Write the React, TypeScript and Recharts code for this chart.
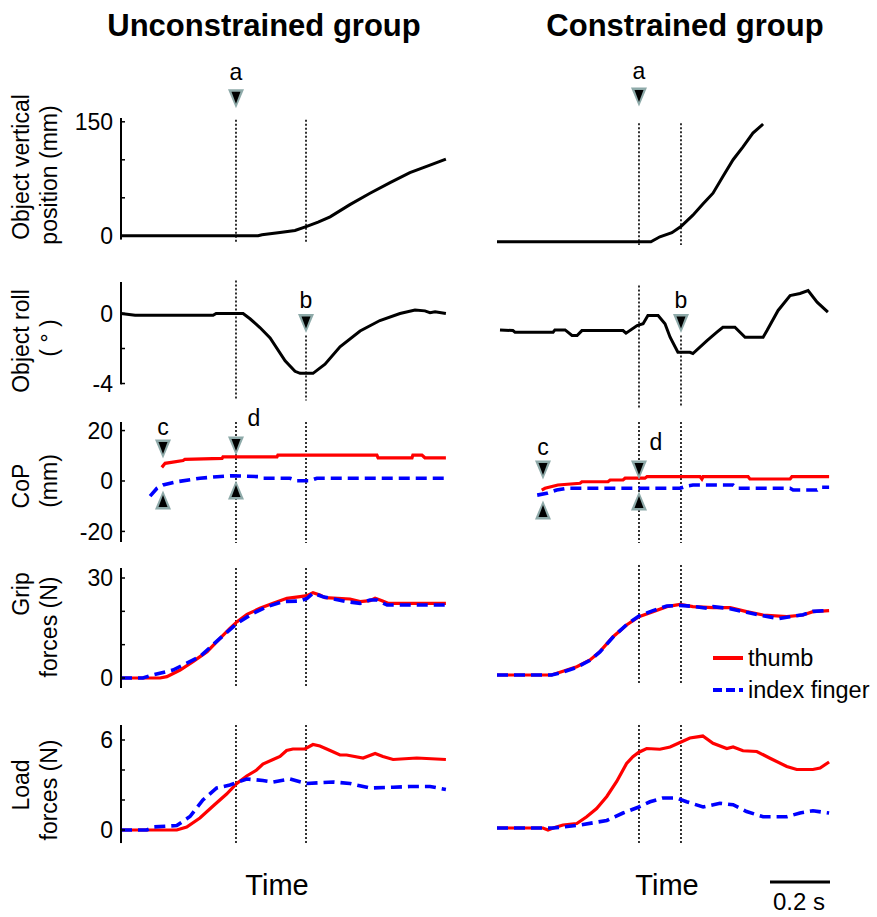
import React from 'react';
import { LineChart, Line, XAxis, YAxis, ReferenceLine, ReferenceDot } from 'recharts';

type Pt = [number, number];

// ---------- data (time in s, value in axis units) ----------
const posUnc: Pt[] = [[0,0],[0.263,0],[0.457,0],[0.47,1.3],[0.53,4.3],[0.58,7],[0.617,12],[0.657,18],[0.697,25],[0.763,41],[0.83,56],[0.897,70],[0.963,83],[1.03,93],[1.083,101]];
const posCon: Pt[] = [[0,0],[0.513,0],[0.543,6.6],[0.583,12],[0.613,20],[0.653,35],[0.687,50],[0.72,64],[0.753,86],[0.787,108],[0.82,125],[0.853,143],[0.887,155]];

const rollUnc: Pt[] = [[0,0],[0.047,-0.1],[0.307,-0.1],[0.317,0],[0.407,0],[0.43,-0.3],[0.463,-0.8],[0.497,-1.4],[0.547,-2.7],[0.58,-3.3],[0.597,-3.42],[0.64,-3.42],[0.68,-2.9],[0.73,-1.9],[0.797,-1.0],[0.863,-0.4],[0.93,0],[0.98,0.2],[1.013,0.15],[1.03,0.05],[1.047,0.1],[1.083,0]];
const rollCon: Pt[] = [[0.01,-0.65],[0.053,-0.69],[0.06,-0.78],[0.187,-0.78],[0.193,-0.65],[0.227,-0.65],[0.25,-0.97],[0.267,-0.97],[0.283,-0.69],[0.42,-0.69],[0.43,-0.84],[0.467,-0.4],[0.487,-0.3],[0.503,0.17],[0.537,0.17],[0.56,-0.3],[0.577,-1.07],[0.603,-1.93],[0.643,-1.93],[0.653,-2.0],[0.7,-1.26],[0.733,-0.78],[0.753,-0.5],[0.793,-0.5],[0.827,-1.07],[0.887,-1.07],[0.9,-0.69],[0.937,0.46],[0.977,1.31],[1.01,1.43],[1.037,1.6],[1.067,0.93],[1.103,0.36]];

const copThumbUnc: Pt[] = [[0.136,5.4],[0.147,7.0],[0.207,8.1],[0.213,8.6],[0.337,9.0],[0.34,9.6],[0.52,9.6],[0.523,10.3],[0.853,10.3],[0.857,9.2],[0.97,9.2],[0.973,10.3],[1.003,10.3],[1.013,9.2],[1.083,9.2]];
const copIndexUnc: Pt[] = [[0.097,-6.0],[0.12,-2.9],[0.14,-1.6],[0.187,-0.3],[0.263,1.1],[0.32,1.7],[0.373,2.1],[0.463,1.7],[0.473,1.1],[0.563,1.1],[0.587,0.1],[0.63,0.1],[0.653,1.1],[1.083,1.1]];
const copThumbCon: Pt[] = [[0.149,-3.6],[0.16,-2.9],[0.203,-1.6],[0.277,-0.9],[0.283,-0.3],[0.37,-0.3],[0.377,0.4],[0.42,0.4],[0.427,1.1],[0.493,1.1],[0.5,1.7],[0.677,1.7],[0.683,0.8],[0.687,1.7],[0.837,1.7],[0.843,0.8],[0.977,0.8],[0.983,1.7],[1.107,1.7]];
const copIndexCon: Pt[] = [[0.134,-5.6],[0.166,-4.9],[0.199,-3.6],[0.232,-2.9],[0.61,-2.9],[0.632,-2.0],[0.653,-1.6],[0.787,-1.6],[0.8,-2.9],[0.977,-2.9],[0.987,-3.6],[1.067,-3.6],[1.077,-2.5],[1.107,-2.5]];

const gripThumbUnc: Pt[] = [[0,0],[0.13,0],[0.153,0.4],[0.197,2.4],[0.24,4.9],[0.287,7.9],[0.33,11.9],[0.363,14.9],[0.387,16.9],[0.42,19.1],[0.463,20.9],[0.507,22.4],[0.553,23.9],[0.597,24.4],[0.62,24.7],[0.64,25.6],[0.663,24.9],[0.68,24.1],[0.763,23.7],[0.797,22.9],[0.83,23.2],[0.847,23.9],[0.87,23.2],[0.89,22.4],[1.083,22.4]];
const gripIndexUnc: Pt[] = [[0,0],[0.073,0],[0.097,0.7],[0.173,2.4],[0.263,6.4],[0.33,11.9],[0.387,16.4],[0.44,19.4],[0.487,21.4],[0.54,22.9],[0.597,23.1],[0.62,23.9],[0.64,25.4],[0.673,24.4],[0.753,22.9],[0.797,22.4],[0.83,23.4],[0.853,23.4],[0.887,21.9],[1.083,21.9]];
const gripThumbCon: Pt[] = [[0,0],[0.182,0],[0.21,0.8],[0.266,2.5],[0.31,4.5],[0.343,7.0],[0.387,11.5],[0.432,15],[0.473,17.5],[0.52,19],[0.566,20.5],[0.61,21.2],[0.653,20.5],[0.72,20.2],[0.777,20.2],[0.832,19],[0.887,18],[0.966,17.5],[1.02,18],[1.053,19],[1.107,19.3]];
const gripIndexCon: Pt[] = [[0,0],[0.182,0],[0.21,0.6],[0.266,2.3],[0.31,4.4],[0.343,6.9],[0.387,11.4],[0.432,15.1],[0.473,17.7],[0.52,19.3],[0.566,20.7],[0.61,20.9],[0.653,20.6],[0.7,20.0],[0.72,20.5],[0.777,19.9],[0.832,18.8],[0.887,17.8],[0.94,16.9],[0.966,17.3],[1.02,18.1],[1.053,19.1],[1.107,19.4]];

const loadThumbUnc: Pt[] = [[0,0],[0.186,0],[0.219,0.2],[0.263,0.8],[0.307,1.6],[0.352,2.4],[0.386,3.1],[0.419,3.6],[0.452,4.0],[0.473,4.4],[0.507,4.7],[0.53,4.9],[0.552,5.3],[0.573,5.4],[0.613,5.4],[0.64,5.7],[0.663,5.6],[0.697,5.3],[0.73,5.0],[0.752,5.0],[0.807,4.8],[0.847,5.1],[0.873,4.9],[0.907,4.7],[0.986,4.8],[1.083,4.7]];
const loadIndexUnc: Pt[] = [[0,0],[0.086,0],[0.107,0.2],[0.186,0.3],[0.23,0.9],[0.273,2.0],[0.319,2.8],[0.363,3.0],[0.419,3.4],[0.473,3.3],[0.507,3.2],[0.563,3.4],[0.619,3.1],[0.707,3.2],[0.763,3.1],[0.83,2.8],[0.907,2.85],[0.963,2.9],[1.03,2.9],[1.083,2.7]];
const loadThumbCon: Pt[] = [[0,0],[0.153,0],[0.17,-0.13],[0.187,0],[0.22,0.2],[0.266,0.3],[0.299,0.75],[0.332,1.3],[0.366,2.1],[0.399,3.1],[0.432,4.3],[0.453,4.75],[0.473,5.05],[0.499,5.3],[0.543,5.25],[0.577,5.4],[0.61,5.7],[0.643,6.0],[0.686,6.13],[0.72,5.65],[0.766,5.3],[0.787,5.4],[0.82,5.15],[0.866,5.1],[0.91,4.65],[0.966,4.1],[0.999,3.9],[1.053,3.9],[1.077,4.0],[1.107,4.4]];
const loadIndexCon: Pt[] = [[0,0],[0.187,0],[0.277,0.2],[0.366,0.5],[0.42,1.0],[0.473,1.4],[0.51,1.75],[0.553,2.0],[0.599,2.0],[0.632,1.75],[0.687,1.4],[0.743,1.65],[0.787,1.55],[0.832,1.1],[0.887,0.75],[0.966,0.75],[1.01,1.0],[1.053,1.15],[1.107,1.0]];

// event times (s)
const evUnc = { a: 0.3833, b: 0.6167, c: 0.14 };
const evCon = { a: 0.4733, b: 0.6133, c: 0.1533 };

const titles = ['Unconstrained group', 'Constrained group'];
const legendLabels = ['thumb', 'index finger'];

// ---------- styling ----------
const FONT = 'Liberation Sans, Arial, Helvetica, sans-serif';
const RED = '#ff0000';
const BLUE = '#0000ff';
const X_DOMAIN: [number, number] = [0, 1.12];
const PW = 336; // 300 px per second
const M = 80;
const AXW = 60;

interface SeriesSpec { data: Pt[]; color: string; dash?: string; width: number; }
interface MarkerSpec { t: number; v: number; dir: 'up' | 'down'; label?: string; ldx?: number; ldy?: number; }
interface PanelSpec {
  left: number; top: number; height: number; domain: [number, number];
  axis?: { ticks: number[]; labels: number[] };
  series: SeriesSpec[];
  guides: { t: number; y1: number; y2: number }[];
  markers: MarkerSpec[];
  scaleBar?: { t1: number; t2: number; v: number };
}

const toRows = (pts: Pt[]) => pts.map(([t, v]) => ({ t, v }));

const blk = (data: Pt[]): SeriesSpec[] => [{ data, color: '#000', width: 3 }];
const pair = (th: Pt[], ix: Pt[]): SeriesSpec[] => [
  { data: th, color: RED, width: 3.2 },
  { data: ix, color: BLUE, width: 3.6, dash: '11 6' },
];

const Tri = (props: any) => {
  const { cx, cy, m } = props as { cx: number; cy: number; m: MarkerSpec };
  const s = m.dir === 'down' ? 1 : -1;
  const outer = `${cx - 8},${cy - 9.5 * s} ${cx + 8},${cy - 9.5 * s} ${cx},${cy + 9.5 * s}`;
  const inner = `${cx - 4.5},${cy - 7 * s} ${cx + 4.5},${cy - 7 * s} ${cx},${cy + 5 * s}`;
  return (
    <g>
      <polygon points={outer} fill="#8eaaa9" />
      <polygon points={inner} fill="#000" />
      {m.label ? (
        <text x={cx + (m.ldx || 0)} y={cy + (m.ldy || 0)} textAnchor="middle" fontSize={23} fontFamily={FONT} fill="#000">
          {m.label}
        </text>
      ) : null}
    </g>
  );
};

const Panel = ({ p }: { p: PanelSpec }) => {
  const hasAxis = !!p.axis;
  return (
    <div style={{ position: 'absolute', left: p.left - M, top: p.top - M }}>
      <LineChart
        width={PW + 2 * M}
        height={p.height + 2 * M}
        margin={{ top: M, right: M, bottom: M, left: hasAxis ? M - AXW : M }}
      >
        <XAxis dataKey="t" type="number" domain={X_DOMAIN} hide />
        {hasAxis ? (
          <YAxis
            type="number"
            domain={p.domain}
            width={AXW}
            ticks={p.axis!.ticks}
            interval={0}
            tickFormatter={(v: number) => (p.axis!.labels.includes(v) ? String(v) : '')}
            axisLine={{ stroke: '#000', strokeWidth: 2 }}
            tickLine={{ stroke: '#000', strokeWidth: 1.5 }}
            tickSize={-4}
            tickMargin={12}
            tick={{ fill: '#000', fontSize: 23, fontFamily: FONT }}
          />
        ) : (
          <YAxis type="number" domain={p.domain} hide />
        )}
        {p.guides.map((g, i) => (
          <ReferenceLine
            key={'g' + i}
            segment={[{ x: g.t, y: g.y1 }, { x: g.t, y: g.y2 }]}
            stroke="#000"
            strokeWidth={1.6}
            strokeDasharray="2 2"
            ifOverflow="visible"
          />
        ))}
        {p.series.map((s, i) => (
          <Line
            key={'s' + i}
            data={toRows(s.data)}
            dataKey="v"
            type="linear"
            stroke={s.color}
            strokeWidth={s.width}
            strokeDasharray={s.dash}
            dot={false}
            activeDot={false}
            isAnimationActive={false}
          />
        ))}
        {p.markers.map((m, i) => (
          <ReferenceDot
            key={'m' + i}
            x={m.t}
            y={m.v}
            r={1}
            ifOverflow="visible"
            shape={(props: any) => <Tri {...props} m={m} />}
          />
        ))}
        {p.scaleBar ? (
          <ReferenceLine
            segment={[{ x: p.scaleBar.t1, y: p.scaleBar.v }, { x: p.scaleBar.t2, y: p.scaleBar.v }]}
            stroke="#000"
            strokeWidth={3}
            ifOverflow="visible"
          />
        ) : null}
      </LineChart>
    </div>
  );
};

const LX = 121;
const RX = 497;

const panels: PanelSpec[] = [
  // row 1: object vertical position
  {
    left: LX, top: 118.2, height: 121.6, domain: [-5, 155],
    axis: { ticks: [0, 50, 100, 150], labels: [0, 150] },
    series: blk(posUnc),
    guides: [{ t: evUnc.a, y1: 152.6, y2: -7.9 }, { t: evUnc.b, y1: 152.6, y2: -7.9 }],
    markers: [{ t: evUnc.a, v: 180.3, dir: 'down', label: 'a', ldy: -19 }],
  },
  {
    left: RX, top: 123.9, height: 121.6, domain: [-5, 155],
    series: blk(posCon),
    guides: [{ t: evCon.a, y1: 156, y2: -4.3 }, { t: evCon.b, y1: 156, y2: -4.3 }],
    markers: [{ t: evCon.a, v: 190.4, dir: 'down', label: 'a', ldy: -18 }],
  },
  // row 2: object roll
  {
    left: LX, top: 281.5, height: 102.4, domain: [-4.05, 1.8],
    axis: { ticks: [-4, -2, 0], labels: [-4, 0] },
    series: blk(rollUnc),
    guides: [{ t: evUnc.a, y1: 1.89, y2: -4.97 }, { t: evUnc.b, y1: -1.26, y2: -4.97 }],
    markers: [{ t: evUnc.b, v: -0.57, dir: 'down', label: 'b', ldy: -15 }],
  },
  {
    left: RX, top: 286.5, height: 102.4, domain: [-4.05, 1.8],
    series: blk(rollCon),
    guides: [{ t: evCon.a, y1: 1.89, y2: -5.09 }, { t: evCon.b, y1: -0.97, y2: -5.09 }],
    markers: [{ t: evCon.b, v: -0.29, dir: 'down', label: 'b', ldy: -16 }],
  },
  // row 3: CoP
  {
    left: LX, top: 422, height: 120, domain: [-24.2, 23.4],
    axis: { ticks: [-20, 0, 20], labels: [-20, 0, 20] },
    series: pair(copThumbUnc, copIndexUnc),
    guides: [{ t: evUnc.a, y1: 23.4, y2: -24.6 }, { t: evUnc.b, y1: 23.4, y2: -24.6 }],
    markers: [
      { t: evUnc.c, v: 12.7, dir: 'down', label: 'c', ldy: -14 },
      { t: evUnc.c, v: -7.5, dir: 'up' },
      { t: evUnc.a, v: 13.9, dir: 'down', label: 'd', ldx: 18, ldy: -20 },
      { t: evUnc.a, v: -3.6, dir: 'up' },
    ],
  },
  {
    left: RX, top: 422, height: 120, domain: [-24.2, 23.4],
    series: pair(copThumbCon, copIndexCon),
    guides: [{ t: evCon.a, y1: 23.4, y2: -24.6 }, { t: evCon.b, y1: 23.4, y2: -24.6 }],
    markers: [
      { t: evCon.c, v: 4.4, dir: 'down', label: 'c', ldy: -15 },
      { t: evCon.c, v: -11.5, dir: 'up' },
      { t: evCon.a, v: 4.4, dir: 'down', label: 'd', ldx: 17, ldy: -20 },
      { t: evCon.a, v: -7.9, dir: 'up' },
    ],
  },
  // row 4: grip forces
  {
    left: LX, top: 568, height: 120, domain: [-3, 33],
    axis: { ticks: [0, 10, 20, 30], labels: [0, 30] },
    series: pair(gripThumbUnc, gripIndexUnc),
    guides: [{ t: evUnc.a, y1: 33, y2: -3 }, { t: evUnc.b, y1: 33, y2: -3 }],
    markers: [],
  },
  {
    left: RX, top: 565, height: 120, domain: [-3, 33],
    series: pair(gripThumbCon, gripIndexCon),
    guides: [{ t: evCon.a, y1: 33, y2: -3 }, { t: evCon.b, y1: 33, y2: -3 }],
    markers: [],
  },
  // row 5: load forces
  {
    left: LX, top: 725, height: 118.05, domain: [-0.87, 7],
    axis: { ticks: [0, 2, 4, 6], labels: [0, 6] },
    series: pair(loadThumbUnc, loadIndexUnc),
    guides: [{ t: evUnc.a, y1: 7, y2: -1.0 }, { t: evUnc.b, y1: 7, y2: -1.0 }],
    markers: [],
  },
  {
    left: RX, top: 723, height: 118.05, domain: [-0.87, 7],
    series: pair(loadThumbCon, loadIndexCon),
    guides: [{ t: evCon.a, y1: 6.87, y2: -1.13 }, { t: evCon.b, y1: 6.87, y2: -1.13 }],
    markers: [],
    scaleBar: { t1: 0.91, t2: 1.11, v: -3.6 },
  },
];

const rowLabels: { l1: string; l2: string; c1: number; c2: number }[] = [
  { l1: 'Object vertical', l2: 'position (mm)', c1: 167, c2: 175 },
  { l1: 'Object roll', l2: '( ° )', c1: 341, c2: 338 },
  { l1: 'CoP', l2: '(mm)', c1: 486, c2: 481 },
  { l1: 'Grip', l2: 'forces (N)', c1: 594, c2: 627 },
  { l1: 'Load', l2: 'forces (N)', c1: 785, c2: 790 },
];

const VLabel = ({ x, y, text }: { x: number; y: number; text: string }) => (
  <text x={x} y={y} transform={`rotate(-90 ${x} ${y})`} textAnchor="middle" fontSize={23} fontFamily={FONT} fill="#000">
    {text}
  </text>
);

export default function App() {
  return (
    <div style={{ position: 'absolute', left: 0, top: 0, width: 877, height: 917, background: '#fff', overflow: 'hidden' }}>
      {panels.map((p, i) => (
        <Panel key={i} p={p} />
      ))}
      <svg width={877} height={917} style={{ position: 'absolute', left: 0, top: 0, pointerEvents: 'none' }}>
        <text x={264} y={36} textAnchor="middle" fontSize={31} fontWeight="bold" fontFamily={FONT} fill="#000">{titles[0]}</text>
        <text x={685} y={36} textAnchor="middle" fontSize={31} fontWeight="bold" fontFamily={FONT} fill="#000">{titles[1]}</text>
        {rowLabels.map((r, i) => (
          <g key={i}>
            <VLabel x={29} y={r.c1} text={r.l1} />
            <VLabel x={57} y={r.c2} text={r.l2} />
          </g>
        ))}
        <text x={277} y={895} textAnchor="middle" fontSize={29} fontFamily={FONT} fill="#000">Time</text>
        <text x={667} y={895} textAnchor="middle" fontSize={29} fontFamily={FONT} fill="#000">Time</text>
        <text x={799} y={910} textAnchor="middle" fontSize={24} fontFamily={FONT} fill="#000">0.2 s</text>
        <line x1={713} x2={743} y1={658} y2={658} stroke={RED} strokeWidth={4} />
        <text x={748} y={666} fontSize={23.5} fontFamily={FONT} fill="#000">{legendLabels[0]}</text>
        <line x1={713} x2={743} y1={690} y2={690} stroke={BLUE} strokeWidth={4} strokeDasharray="9 4" />
        <text x={748} y={698} fontSize={23.5} fontFamily={FONT} fill="#000">{legendLabels[1]}</text>
      </svg>
    </div>
  );
}
